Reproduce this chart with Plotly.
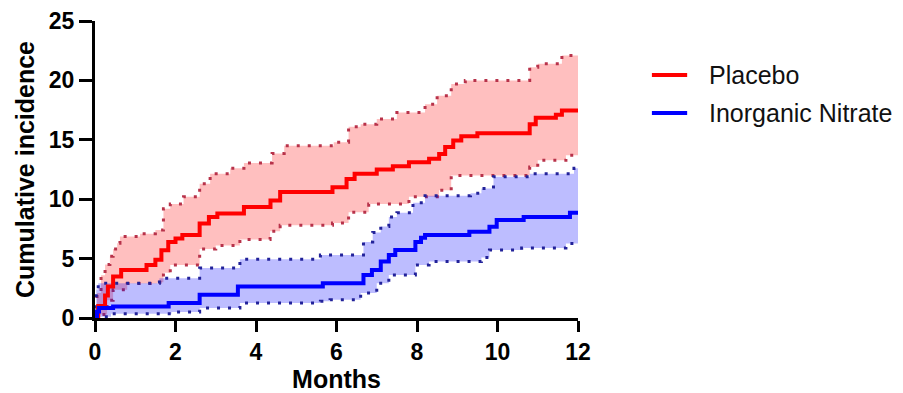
import plotly.graph_objects as go

# ---- data (months, cumulative incidence %) ----
placebo_t = [0, 0.08, 0.25, 0.32, 0.45, 0.65, 1.28, 1.5, 1.65, 1.82, 2.0, 2.17, 2.6, 2.83, 3.04, 3.7, 4.36, 4.6,
             5.9, 6.25, 6.45, 7.0, 7.4, 7.8, 8.3, 8.55, 8.7, 8.9, 9.1, 9.5, 10.8, 10.95, 11.45, 11.6, 12.0]
placebo_v = [0, 1.0, 1.9, 2.65, 3.5, 4.05, 4.47, 4.9, 5.7, 6.4, 6.7, 6.98, 7.96, 8.5, 8.8, 9.35, 9.9, 10.6,
             11.0, 11.7, 12.15, 12.5, 12.77, 13.1, 13.4, 13.8, 14.4, 14.95, 15.3, 15.56, 16.3, 16.85, 17.1, 17.46, 17.46]

placebo_up_t = [0, 0.05, 0.15, 0.25, 0.37, 0.45, 0.55, 0.62, 1.12, 1.5, 1.7, 1.87, 2.2, 2.6, 2.86, 3.36, 3.7,
                4.4, 4.7, 5.93, 6.3, 6.6, 7.0, 7.5, 8.2, 8.5, 8.85, 9.2, 10.8, 11.0, 11.6, 12.0]
placebo_up_v = [0, 2.1, 3.6, 4.5, 5.2, 5.8, 6.3, 6.85, 7.1, 7.4, 9.2, 9.6, 10.2, 11.3, 12.15, 12.6, 13.05,
                13.85, 14.5, 14.8, 16.1, 16.3, 16.75, 17.3, 18.0, 18.7, 19.7, 20.0, 21.1, 21.4, 22.1, 22.1]

placebo_lo_t = [0, 0.1, 0.3, 0.45, 0.8, 1.55, 1.7, 1.87, 2.6, 3.0, 3.6, 4.35, 4.6, 5.9, 6.3, 6.8, 7.8,
                8.55, 8.85, 10.8, 11.0, 11.7, 12.0]
placebo_lo_v = [0, 0.3, 1.5, 2.37, 2.9, 3.0, 3.8, 4.47, 5.8, 6.1, 6.6, 7.3, 7.8, 8.0, 8.9, 9.6, 10.2,
                10.75, 12.0, 12.7, 13.27, 13.7, 13.7]

nitrate_t = [0, 0.05, 0.1, 0.45, 1.83, 2.6, 3.55, 5.66, 6.67, 6.88, 7.1, 7.3, 7.46, 7.96, 8.1, 8.2, 9.3,
             9.8, 9.98, 10.65, 11.8, 12.0]
nitrate_v = [0, 0.55, 0.84, 0.97, 1.26, 1.95, 2.65, 2.93, 3.63, 4.05, 4.75, 5.3, 5.72, 6.4, 6.75, 6.98, 7.26,
             7.68, 8.24, 8.5, 8.85, 8.85]

nitrate_up_t = [0, 0.03, 0.08, 1.6, 2.6, 3.6, 5.6, 6.67, 6.9, 7.1, 7.3, 7.5, 7.9, 8.2, 9.33, 9.6, 9.9,
                10.8, 11.9, 12.0]
nitrate_up_v = [0, 2.4, 2.93, 3.35, 4.2, 4.95, 5.3, 6.4, 7.2, 7.7, 8.5, 8.85, 9.7, 10.3, 10.5, 10.9, 11.9,
                12.15, 12.6, 12.6]

nitrate_lo_t = [0, 0.1, 0.4, 1.9, 2.6, 3.6, 5.6, 5.84, 6.6, 7.0, 7.3, 7.96, 8.3, 9.6, 9.8, 10.6, 11.7, 12.0]
nitrate_lo_v = [0, 0.1, 0.36, 0.5, 0.84, 1.26, 1.4, 1.53, 2.1, 2.93, 3.63, 4.47, 4.75, 5.1, 5.72, 5.9, 6.28, 6.28]

series_names = ["Placebo", "Inorganic Nitrate"]
x_ticks = [0, 2, 4, 6, 8, 10, 12]
y_ticks = [0, 5, 10, 15, 20, 25]

FONT = "Liberation Sans, Arial, sans-serif"
RED = "#FF0000"
BLUE = "#0000FF"
RED_DOT = "#B8324A"
BLUE_DOT = "#22229A"
RED_FILL = "rgba(255,0,0,0.25)"
BLUE_FILL = "rgba(0,0,255,0.26)"
DOT = "3px,8px"

fig = go.Figure()

# Placebo band
fig.add_trace(go.Scatter(x=placebo_lo_t, y=placebo_lo_v, mode="lines", line_shape="hv",
                         line=dict(color=RED_DOT, width=3, dash=DOT), showlegend=False, hoverinfo="skip"))
fig.add_trace(go.Scatter(x=placebo_up_t, y=placebo_up_v, mode="lines", line_shape="hv",
                         line=dict(color=RED_DOT, width=3, dash=DOT), fill="tonexty", fillcolor=RED_FILL,
                         showlegend=False, hoverinfo="skip"))
# Nitrate band
fig.add_trace(go.Scatter(x=nitrate_lo_t, y=nitrate_lo_v, mode="lines", line_shape="hv",
                         line=dict(color=BLUE_DOT, width=3, dash=DOT), showlegend=False, hoverinfo="skip"))
fig.add_trace(go.Scatter(x=nitrate_up_t, y=nitrate_up_v, mode="lines", line_shape="hv",
                         line=dict(color=BLUE_DOT, width=3, dash=DOT), fill="tonexty", fillcolor=BLUE_FILL,
                         showlegend=False, hoverinfo="skip"))
# Main lines
fig.add_trace(go.Scatter(x=placebo_t, y=placebo_v, mode="lines", line_shape="hv", name=series_names[0],
                         showlegend=False, line=dict(color=RED, width=4)))
fig.add_trace(go.Scatter(x=nitrate_t, y=nitrate_v, mode="lines", line_shape="hv", name=series_names[1],
                         showlegend=False, line=dict(color=BLUE, width=4)))

# legend drawn as shapes + annotations (paper coords)
legend_rows = [(series_names[0], RED, 0.818), (series_names[1], BLUE, 0.690)]
for name, col, yy in legend_rows:
    fig.add_shape(type="line", xref="paper", yref="paper", x0=1.153, x1=1.226, y0=yy, y1=yy,
                  line=dict(color=col, width=4))
    fig.add_annotation(xref="paper", yref="paper", x=1.267, y=yy, text=name, showarrow=False,
                       xanchor="left", yanchor="middle",
                       font=dict(family=FONT, size=25, color="#111111"))

# page body has an 8px margin: figure is 895x385 so that it fills the 903x393 window
fig.update_layout(
    width=895, height=385,
    margin=dict(l=87, r=325, t=13, b=75),
    plot_bgcolor="white", paper_bgcolor="white",
    font=dict(family=FONT, color="#111111"),
    showlegend=False,
)
fig.update_xaxes(range=[0, 12], tickvals=x_ticks, ticktext=[str(v) for v in x_ticks],
                 showgrid=False, zeroline=False, showline=True, linecolor="black", linewidth=3,
                 ticks="outside", ticklen=11, tickwidth=3, tickcolor="black",
                 tickfont=dict(family=FONT, size=23, weight="bold", color="black"),
                 title=dict(text="Months", font=dict(family=FONT, size=25, weight="bold", color="black"),
                            standoff=22),
                 automargin=False)
fig.update_yaxes(range=[0, 25], tickvals=y_ticks, ticktext=[str(v) for v in y_ticks],
                 showgrid=False, zeroline=False, showline=True, linecolor="black", linewidth=3,
                 ticks="outside", ticklen=13, tickwidth=3, tickcolor="black",
                 tickfont=dict(family=FONT, size=23, weight="bold", color="black"),
                 title=dict(text="Cumulative incidence", font=dict(family=FONT, size=25, weight="bold", color="black"),
                            standoff=8),
                 automargin=False)

fig.write_html("out.html")
